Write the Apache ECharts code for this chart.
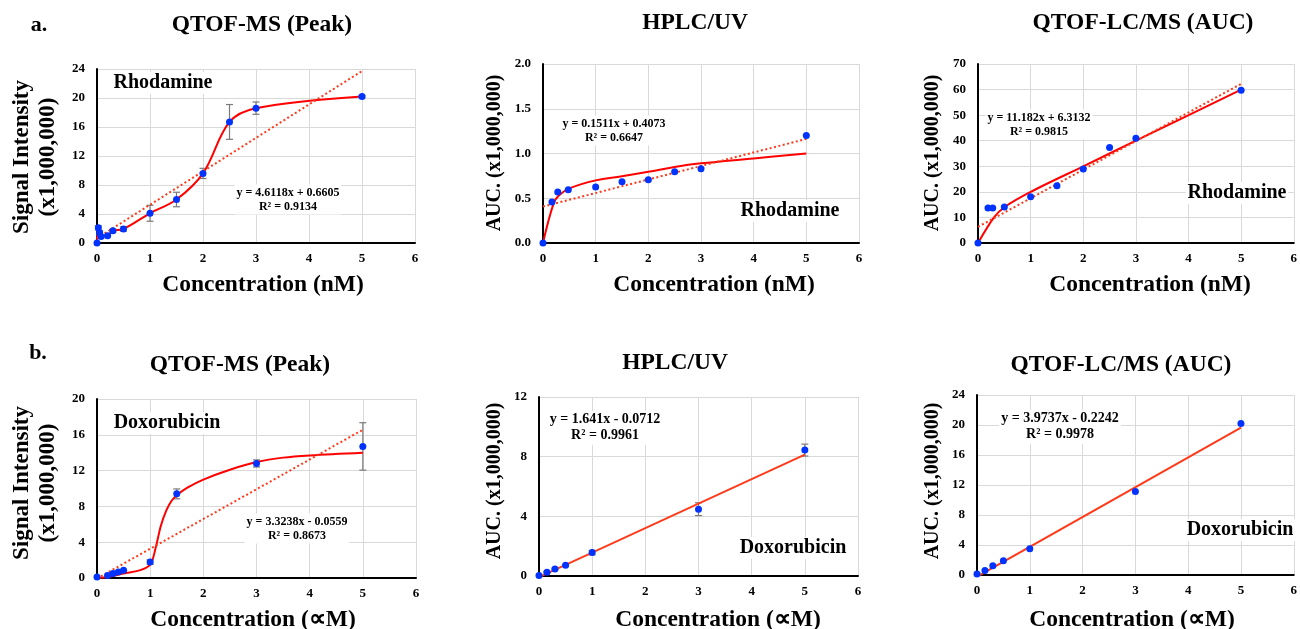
<!DOCTYPE html>
<html><head><meta charset="utf-8">
<script src="https://cdn.jsdelivr.net/npm/echarts@6/dist/echarts.min.js"></script>
<style>html,body{margin:0;padding:0;background:#fff}#c{width:1300px;height:629px}</style>
</head><body><div id="c"></div>
<script>
const FONT = '"Liberation Serif", "Times New Roman", serif';

// ---------- data ----------
const xTicksMax = 6;
// a1: Rhodamine, QTOF-MS (Peak)
const a1X = [0, 0.025, 0.05, 0.075, 0.2, 0.3, 0.5, 1, 1.5, 2, 2.5, 3, 5];
const a1Y = [0, 2.1, 1.4, 0.9, 1.0, 1.7, 1.93, 4.1, 6.0, 9.6, 16.7, 18.6, 20.2];
const a1Err = [0, 0.3, 0.3, 0.2, 0.1, 0.2, 0.3, 1.1, 1.0, 0.7, 2.4, 0.85, 0.15];
// a2: Rhodamine, HPLC/UV
const a2X = [0, 0.17, 0.28, 0.48, 1, 1.5, 2, 2.5, 3, 5];
const a2Y = [0, 0.457, 0.57, 0.595, 0.625, 0.684, 0.706, 0.796, 0.83, 1.2];
const a2FitX = [0, 0.2, 0.3, 0.5, 1, 1.5, 2, 2.5, 3, 4, 5];
const a2FitY = [0, 0.44, 0.53, 0.61, 0.70, 0.745, 0.795, 0.85, 0.89, 0.945, 1.0];
// a3: Rhodamine, QTOF-LC/MS (AUC)
const a3X = [0, 0.19, 0.28, 0.5, 1, 1.5, 2, 2.5, 3, 5];
const a3Y = [0, 13.7, 13.7, 14.1, 18.1, 22.4, 28.9, 37.3, 41.0, 59.7];
const a3FitX = [0, 0.3, 0.5, 1, 2, 3, 5];
const a3FitY = [0, 9.9, 14.0, 20, 30, 40, 60];
// b1: Doxorubicin, QTOF-MS (Peak)
const b1X = [0, 0.2, 0.3, 0.4, 0.5, 1, 1.5, 3, 5];
const b1Y = [0.1, 0.27, 0.49, 0.67, 0.86, 1.79, 9.4, 12.8, 14.7];
const b1Err = [0, 0.05, 0.05, 0.05, 0.05, 0.25, 0.55, 0.4, 2.65];
const b1FitX = [0, 0.2, 0.5, 0.8, 1.0, 1.1, 1.2, 1.3, 1.4, 1.5, 1.7, 2.0, 2.5, 3, 3.5, 4, 5];
const b1FitY = [0, 0.1, 0.5, 0.85, 1.5, 3.3, 5.8, 7.5, 8.6, 9.25, 10.1, 11.0, 12.1, 12.95, 13.45, 13.7, 14.0];
// b2: Doxorubicin, HPLC/UV
const b2X = [0, 0.15, 0.3, 0.5, 1, 3, 5];
const b2Y = [0.04, 0.25, 0.47, 0.72, 1.57, 4.48, 8.44];
const b2Err = [0, 0.05, 0.05, 0.05, 0.15, 0.43, 0.4];
// b3: Doxorubicin, QTOF-LC/MS (AUC)
const b3X = [0, 0.15, 0.3, 0.5, 1, 3, 5];
const b3Y = [0.13, 0.6, 1.25, 1.9, 3.5, 11.15, 20.2];

// linear trendlines (coefficients shown on the figure)
const trendSlope = [4.6118, 0.1511, 11.182, 3.3238, 1.641, 3.9737];
const trendIntercept = [0.6605, 0.4073, 6.3132, -0.0559, -0.0712, -0.2242];
const trendR2 = ['0.9134', '0.6647', '0.9815', '0.8673', '0.9961', '0.9978'];
const trendXRange = [0, 5];

const yMax = [24, 2, 70, 20, 12, 24];
const yStep = [4, 0.5, 10, 4, 4, 4];
const titles = ['QTOF-MS (Peak)', 'HPLC/UV', 'QTOF-LC/MS (AUC)', 'QTOF-MS (Peak)', 'HPLC/UV', 'QTOF-LC/MS (AUC)'];
const compounds = ['Rhodamine', 'Rhodamine', 'Rhodamine', 'Doxorubicin', 'Doxorubicin', 'Doxorubicin'];
const yNames = ['Signal Intensity\n(x1,000,000)', 'AUC. (x1,000,000)', 'AUC. (x1,000,000)',
                'Signal Intensity\n(x1,000,000)', 'AUC. (x1,000,000)', 'AUC. (x1,000,000)'];
const xNames = ['Concentration (nM)', 'Concentration (nM)', 'Concentration (nM)',
                'Concentration (\u221DM)', 'Concentration (\u221DM)', 'Concentration (\u221DM)'];
const panelLetters = ['a.', 'b.'];

// ---------- layout ----------
const grids = [[97, 69, 318, 174], [543, 64, 316, 179], [978, 64, 320, 179],
               [97, 399, 319, 179], [539, 397, 319, 179], [977, 395, 320, 180]];
const titlePos = [[262, 25], [695, 23], [1143, 23], [240, 365], [675, 363], [1121, 365]];
const xNamePos = [[263, 285], [714, 285], [1150, 285], [253, 620], [718, 620], [1132, 620]];
const yNamePos = [[35, 157], [495, 153], [933, 153], [35, 483], [495, 481], [933, 481]];
const labelPos = [[163, 83], [790, 211], [1237, 193], [167, 423], [793, 548], [1240, 530]];
const eqPos = [[288, 193, 12], [614, 124, 12], [1039, 118, 12], [297, 522, 12], [605, 420, 14], [1060, 419, 14]];
const letterPos = [[39, 25], [38, 353]];

const zip = (xs, ys, es) => xs.map((x, i) => es ? [x, ys[i], es[i]] : [x, ys[i]]);
const pts = [zip(a1X, a1Y), zip(a2X, a2Y), zip(a3X, a3Y), zip(b1X, b1Y), zip(b2X, b2Y), zip(b3X, b3Y)];
const errs = [zip(a1X, a1Y, a1Err), null, null, zip(b1X, b1Y, b1Err), zip(b2X, b2Y, b2Err), null];
const curves = [zip(a1X, a1Y), zip(a2FitX, a2FitY), zip(a3FitX, a3FitY), zip(b1FitX, b1FitY), null, null];
const curveSmooth = [0.35, 0.4, 0.3, 0.35, 0, 0];

const RED = '#ff0000';
const TREND = '#ff3a1a';
const BLUE = '#0033ff';

const option = {
  backgroundColor: '#fff',
  animation: false,
  grid: grids.map(g => ({ left: g[0], top: g[1], width: g[2], height: g[3], containLabel: false })),
  xAxis: grids.map((g, i) => ({
    type: 'value', gridIndex: i, min: 0, max: xTicksMax, interval: 1,
    axisLine: { show: true, onZero: false, lineStyle: { color: '#000', width: 2 } },
    axisTick: { show: false },
    splitLine: { show: true, lineStyle: { color: '#d9d9d9', width: 1 } },
    axisLabel: { color: '#000', fontFamily: FONT, fontWeight: 'bold', fontSize: 13, margin: 9 }
  })),
  yAxis: grids.map((g, i) => ({
    type: 'value', gridIndex: i, min: 0, max: yMax[i], interval: yStep[i],
    axisLine: { show: true, onZero: false, lineStyle: { color: '#000', width: 2 } },
    axisTick: { show: false },
    splitLine: { show: true, lineStyle: { color: '#d9d9d9', width: 1 } },
    axisLabel: { color: '#000', fontFamily: FONT, fontWeight: 'bold', fontSize: 13, margin: 12,
      formatter: v => i === 1 ? v.toFixed(1) : String(v) }
  })),
  series: [],
  graphic: []
};

const txt = (x, y, text, font, extra) => Object.assign({ type: 'text', x, y, silent: true, z: 100,
  style: { text, font, fill: '#000', align: 'center', verticalAlign: 'middle' } }, extra || {});

for (let i = 0; i < 6; i++) {
  if (errs[i]) {
    option.series.push({
      type: 'custom', xAxisIndex: i, yAxisIndex: i, data: errs[i], z: 2,
      renderItem: (params, api) => {
        const x = api.value(0), y = api.value(1), e = api.value(2);
        if (!e) return null;
        const top = api.coord([x, y + e]), bot = api.coord([x, y - e]);
        const style = { stroke: '#7a7a7a', lineWidth: 1.2 };
        return { type: 'group', children: [
          { type: 'line', shape: { x1: top[0], y1: top[1], x2: bot[0], y2: bot[1] }, style },
          { type: 'line', shape: { x1: top[0] - 3.5, y1: top[1], x2: top[0] + 3.5, y2: top[1] }, style },
          { type: 'line', shape: { x1: bot[0] - 3.5, y1: bot[1], x2: bot[0] + 3.5, y2: bot[1] }, style }
        ] };
      }
    });
  }
  if (curves[i]) {
    option.series.push({
      type: 'line', xAxisIndex: i, yAxisIndex: i, data: curves[i], smooth: curveSmooth[i],
      showSymbol: false, symbol: 'none', z: 3,
      lineStyle: { color: RED, width: 2 }
    });
  }
  const tr = trendXRange.map(x => [x, trendSlope[i] * x + trendIntercept[i]]);
  option.series.push({
    type: 'line', xAxisIndex: i, yAxisIndex: i, data: tr, showSymbol: false, symbol: 'none', z: 4,
    lineStyle: { color: TREND, width: 2, type: i < 4 ? [2, 2.5] : 'solid' }
  });
  option.series.push({
    type: 'scatter', xAxisIndex: i, yAxisIndex: i, data: pts[i], symbol: 'circle', symbolSize: 7, z: 5,
    itemStyle: { color: BLUE, opacity: 1 }
  });

  option.graphic.push(txt(titlePos[i][0], titlePos[i][1], titles[i], 'bold 23.5px ' + FONT));
  option.graphic.push(txt(xNamePos[i][0], xNamePos[i][1], xNames[i], 'bold 23.5px ' + FONT));
  const yn = txt(yNamePos[i][0], yNamePos[i][1], yNames[i],
    (i % 3 === 0 ? 'bold 23px ' : 'bold 20px ') + FONT, { rotation: Math.PI / 2 });
  yn.style.lineHeight = 26;
  option.graphic.push(yn);
  const lab = txt(labelPos[i][0], labelPos[i][1], compounds[i], 'bold 20px ' + FONT);
  lab.style.backgroundColor = '#fff';
  lab.style.padding = [1, 2];
  option.graphic.push(lab);
  const m = trendSlope[i], b = trendIntercept[i];
  const eq = 'y = ' + m + 'x ' + (b < 0 ? '- ' : '+ ') + Math.abs(b).toFixed(4) + '\nR\u00B2 = ' + trendR2[i];
  const eqEl = txt(eqPos[i][0], eqPos[i][1] + eqPos[i][2] * 0.55, eq, 'bold ' + eqPos[i][2] + 'px ' + FONT);
  eqEl.style.lineHeight = eqPos[i][2] + 2;
  eqEl.style.backgroundColor = '#fff';
  eqEl.style.padding = [1, 2];
  option.graphic.push(eqEl);
}
panelLetters.forEach((t, k) => option.graphic.push(txt(letterPos[k][0], letterPos[k][1], t, 'bold 22px ' + FONT)));

const chart = echarts.init(document.getElementById('c'), null, { renderer: 'canvas' });
chart.setOption(option);
</script></body></html>
